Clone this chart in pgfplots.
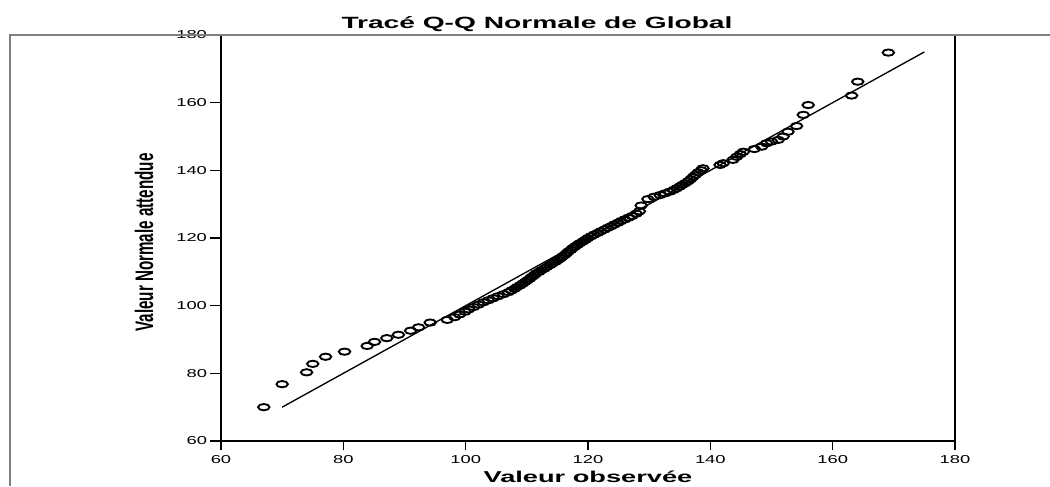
\documentclass[border=0pt]{standalone}
\usepackage{fontspec}
\setmainfont{Liberation Sans}
\newfontfamily\titlefont{Liberation Sans}[FakeStretch=1.73]
\newfontfamily\ylabfont{Liberation Sans}[FakeStretch=0.6]
\newfontfamily\tickfont{Liberation Sans}[FakeStretch=1.6]
\usepackage{pgfplots}
\pgfplotsset{compat=1.18}
\begin{document}
\begin{tikzpicture}
\useasboundingbox (0pt,0pt) rectangle (787.5pt,364.5pt);
\begin{axis}[
  at={(165.75pt,33.75pt)}, anchor=south west,
  scale only axis,
  width=550.5pt, height=304.5pt,
  xmin=60, xmax=180, ymin=60, ymax=180,
  xtick={60,80,...,180}, ytick={60,80,...,180},
  minor tick num=0,
  axis lines*=left,
  tick align=outside,
  major tick length=7pt,
  every tick/.style={draw=black, line width=1pt},
  axis line style={black, line width=1pt, -},
  /pgf/number format/assume math mode=true,
  tick label style={font=\tickfont\fontsize{8.6}{10}\selectfont},
  every axis title shift=0pt,
  title={Tracé Q-Q Normale de Global},
  title style={font=\titlefont\bfseries\fontsize{12.2}{14}\selectfont, at={(axis description cs:0.4305,1.0172)}, anchor=base, inner sep=0pt, yshift=0pt},
  xlabel={Valeur observée},
  xlabel style={font=\titlefont\bfseries\fontsize{11.8}{14}\selectfont, at={(axis description cs:0.5,-0.1034)}, anchor=base, inner sep=0pt},
  ylabel={Valeur Normale attendue},
  ylabel style={font=\ylabfont\bfseries\fontsize{19}{20}\selectfont, at={(axis description cs:-0.0926,0.489)}, rotate=0, anchor=base, inner sep=0pt},
  clip=false,
]
\draw[black, line width=1pt] (rel axis cs:1,0) -- (rel axis cs:1,1);
\pgfplotsinvokeforeach{60,80,100,120,140,160,180}{
  \draw[black, line width=1pt] (axis cs:#1,60) -- ([yshift=-4.5pt]axis cs:#1,60);
  \draw[black, line width=1pt] (axis cs:60,#1) -- ([xshift=-8.25pt]axis cs:60,#1);
}
\addplot[black, line width=1pt] coordinates {(70,70) (175,175)};
\addplot[only marks, mark=o, mark size=4.3pt, mark options={black, yscale=0.55, line width=1.4pt}] coordinates {
(67.0,70.0) (70.0,76.8) (74.0,80.3) (75.0,82.8) (77.1,84.9) (80.2,86.4) (83.9,88.1) (85.1,89.3) (87.1,90.4) (89.0,91.4) (91.0,92.6) (92.3,93.6) (94.2,95.0) (97.0,95.8) (98.2,96.6) (99.0,97.4) (99.9,98.2)
(100.5,98.9) (101.3,99.6) (102.1,100.3) (102.9,101.0) (103.7,101.6) (104.5,102.2) (105.3,102.8) (106.2,103.4) (107.0,104.0)
(107.5,104.5) (108.0,105.0) (108.4,105.5) (108.9,106.0) (109.3,106.5) (109.7,107.0) (110.1,107.5) (110.5,108.0) (110.8,108.5) (111.2,109.0) (111.5,109.5) (112.0,110.0) (112.4,110.5) (112.9,111.0) (113.3,111.5) (113.8,112.0) (114.2,112.5) (114.7,113.0) (115.1,113.5) (115.5,114.0) (115.8,114.5) (116.2,115.0) (116.5,115.5) (116.8,116.0) (117.2,116.5) (117.5,117.0) (117.9,117.5) (118.3,118.0) (118.7,118.5) (119.2,119.0) (119.6,119.5) (120.0,120.0) (120.5,120.5) (121.0,121.0) (121.6,121.5) (122.1,122.0) (122.7,122.5) (123.2,123.0) (123.8,123.5) (124.3,124.0) (124.9,124.5) (125.4,125.0) (126.0,125.5) (126.6,126.0) (127.2,126.5) (127.9,127.2)
(128.4,127.9) (128.7,129.6) (129.8,131.5) (130.8,132.2) (131.8,132.7) (132.6,133.2) (133.4,133.7) (134.0,134.2) (134.5,134.7) (135.0,135.2) (135.4,135.7) (135.9,136.2) (136.4,136.8) (136.8,137.4) (137.2,138.1) (137.6,138.7) (138.0,139.4) (138.5,140.0) (138.8,140.6)
(141.6,141.6) (142.1,142.1) (143.7,143.1) (144.3,144.0) (144.9,144.8) (145.4,145.5) (147.2,146.3) (148.4,147.0) (149.2,148.0) (150.0,148.5) (151.1,149.0) (151.9,150.0) (152.7,151.4) (154.1,153.1) (155.2,156.4) (156.0,159.3) (163.1,162.1) (164.1,166.2) (169.1,174.8)
};
\end{axis}
\draw[gray, line width=1.5pt] (7.5pt,0pt) -- (7.5pt,338.25pt) -- (787.5pt,338.25pt);
\end{tikzpicture}
\end{document}
